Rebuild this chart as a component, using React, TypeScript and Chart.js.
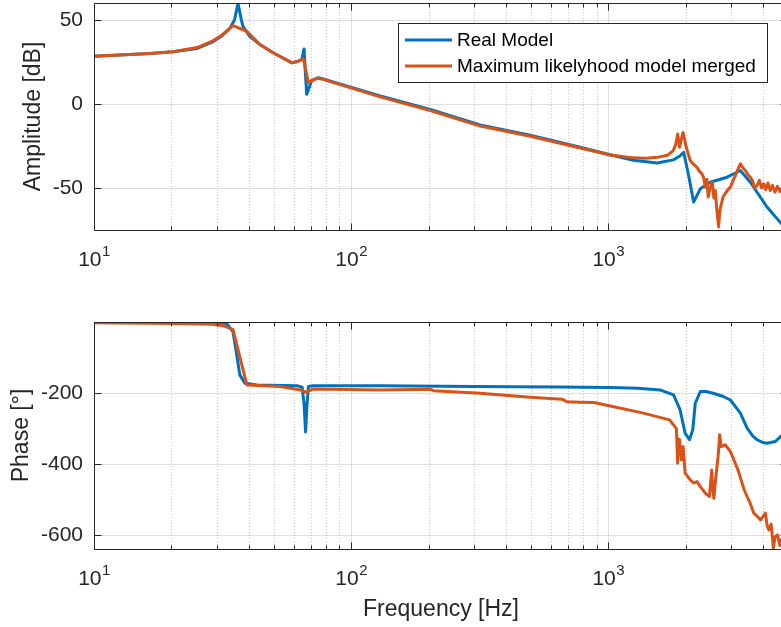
import React, { useEffect, useRef } from "react";
import { Chart, registerables } from "chart.js";

Chart.register(...registerables);

// ---------- data ----------
const xMajorTicks = [10, 100, 1000];
const xMinorTicks = [20, 30, 40, 50, 60, 70, 80, 90, 200, 300, 400, 500, 600, 700, 800, 900, 2000, 3000, 4000, 5000];
const ampTicks = [-50, 0, 50];
const phaseTicks = [-600, -400, -200];

const seriesNames = ["Real Model", "Maximum likelyhood model merged"];

const realAmpFreq = [10, 13.8, 16.5, 20.3, 25.2, 29, 31.5, 33.8, 35.2, 36.3, 37.4, 38, 40.4, 44.2, 49.7, 58.9, 62.2, 64.3, 65.6, 66.4, 67.2, 70.3, 74.6, 77.8, 129.7, 203, 317.5, 497, 778, 1018, 1251, 1548, 1790, 1900, 1965, 2050, 2147, 2280, 2492, 2897, 3264, 3570, 4143, 4710, 5000];
const realAmpDb = [28.4, 29.3, 30, 31, 33, 36.9, 40.5, 45, 50, 59.8, 50, 46, 40, 35.3, 30.4, 24.4, 25.4, 26.4, 32.7, 18, 5.7, 14, 15.6, 14.8, 4.7, -3.3, -12.5, -18.6, -25.8, -30.2, -33.5, -35.1, -33.3, -31, -28.8, -42, -58.4, -50.5, -46.6, -43.6, -39.6, -46.6, -61.3, -71.2, -75];

const mlAmpFreq = [10, 13.8, 16.5, 20.3, 25.2, 29, 31.5, 34.7, 39.3, 44.2, 49.7, 58.9, 62.2, 65.2, 68.2, 73.6, 77.8, 129.7, 203, 317.5, 497, 778, 1018, 1251, 1400, 1548, 1700, 1790, 1830, 1861, 1895, 1925, 1954, 2010, 2083, 2150, 2213, 2260, 2314, 2350, 2384, 2420, 2447, 2490, 2540, 2575, 2607, 2640, 2685, 2720, 2754, 2800, 2852, 2920, 2985, 3050, 3121, 3190, 3264, 3340, 3414, 3490, 3570, 3650, 3700, 3793, 3870, 3950, 4022, 4100, 4180, 4266, 4350, 4450, 4550, 4650, 4710, 5000];
const mlAmpDb = [28.4, 29.3, 30, 31, 33.5, 37.5, 41, 46.6, 43.2, 35.3, 30.4, 24.4, 25.4, 26.8, 12.6, 15.2, 14.6, 4.2, -4, -13.2, -19.2, -26.2, -30.4, -32.1, -32.3, -31.8, -30.5, -27.8, -24, -17.9, -25.8, -21, -17, -25.8, -33.7, -36, -37.7, -40, -41.6, -44, -49.5, -45, -55.4, -50, -46.6, -56, -51.5, -62, -73.2, -63, -59.4, -55, -53.4, -51, -49.5, -46, -42.6, -39, -35.7, -38, -39.6, -42, -43.6, -46, -50, -48.5, -45.5, -50, -47.5, -51, -47, -51.5, -48.5, -52.5, -49, -52, -50.5, -51];

const realPhFreq = [10, 29, 32.8, 34.7, 35.9, 36.9, 38.7, 43, 61.5, 64.5, 65.6, 66.5, 67.4, 68.2, 71.1, 130, 300, 650, 1018, 1300, 1590, 1794, 1903, 1990, 2070, 2131, 2180, 2280, 2400, 2562, 2800, 2985, 3264, 3467, 3650, 3793, 4000, 4143, 4460, 4710, 5000];
const realPhDeg = [-1, -1, -4, -27, -93, -149, -173, -177.5, -179.5, -184, -230, -310, -230, -182, -179.5, -180, -182, -183, -185, -187, -191.5, -205.6, -248, -313.5, -332, -304, -229, -196, -196, -201, -210, -220, -257, -299, -322, -332, -340, -342, -337, -321, -312];

const mlPhFreq = [10, 20, 29.1, 32, 33.8, 34.7, 39.3, 53, 63.4, 66.9, 71.1, 130, 203, 209, 317.5, 497, 660, 690, 778, 878, 1018, 1369, 1732, 1815, 1840, 1861, 1880, 1895, 1925, 1954, 1990, 2083, 2147, 2213, 2280, 2384, 2474, 2525, 2550, 2574, 2621, 2674, 2711, 2750, 2852, 2985, 3194, 3376, 3467, 3560, 3679, 3800, 3912, 4000, 4085, 4150, 4210, 4300, 4385, 4460, 4550, 4650, 4710, 5000];
const mlPhDeg = [-2, -4, -6.5, -11, -18, -21, -177.5, -182, -191.5, -198, -188.7, -191.5, -189.6, -193.5, -200.8, -212, -217.7, -224.5, -226, -227, -236.6, -257, -276, -295, -300, -398, -330, -332, -389, -351, -426, -445, -454, -450, -464, -482.5, -492, -417, -470, -497, -436, -379, -318, -351, -346.5, -365, -417, -473, -492, -510, -539, -548, -558, -548, -539, -575, -586, -570, -637, -605, -600, -630, -614, -625];

// ---------- styling ----------
const BLUE = "#0072BD";
const ORANGE = "#D95319";
const AX = "#262626";
const FONT = "'Liberation Sans', Arial, Helvetica, sans-serif";

const toPts = (xs: number[], ys: number[]) => xs.map((x, i) => ({ x, y: ys[i] }));

function framePlugin(yTicks: number[]) {
  return {
    id: "matlabFrame",
    beforeDatasetsDraw(chart: any) {
      const { ctx, chartArea: a, scales } = chart;
      const x = scales.x;
      const y = scales.y;
      ctx.save();
      ctx.beginPath();
      ctx.rect(a.left, a.top, a.right - a.left, a.bottom - a.top);
      ctx.clip();
      ctx.lineWidth = 1;
      ctx.strokeStyle = "rgba(38,38,38,0.28)";
      ctx.setLineDash([1, 2]);
      ctx.beginPath();
      for (const v of xMinorTicks) {
        const p = Math.round(x.getPixelForValue(v)) + 0.5;
        ctx.moveTo(p, a.top);
        ctx.lineTo(p, a.bottom);
      }
      ctx.stroke();
      ctx.setLineDash([]);
      ctx.strokeStyle = "rgba(38,38,38,0.15)";
      ctx.beginPath();
      for (const v of xMajorTicks) {
        const p = Math.round(x.getPixelForValue(v)) + 0.5;
        ctx.moveTo(p, a.top);
        ctx.lineTo(p, a.bottom);
      }
      for (const v of yTicks) {
        const p = Math.round(y.getPixelForValue(v)) + 0.5;
        ctx.moveTo(a.left, p);
        ctx.lineTo(a.right, p);
      }
      ctx.stroke();
      ctx.restore();
    },
    afterDatasetsDraw(chart: any) {
      const { ctx, chartArea: a, scales } = chart;
      const x = scales.x;
      const y = scales.y;
      const L = Math.round(a.left) + 0.5;
      const R = Math.round(a.right) - 0.5;
      const T = Math.round(a.top) + 0.5;
      const B = Math.round(a.bottom) + 0.5;
      ctx.save();
      ctx.strokeStyle = AX;
      ctx.lineWidth = 1;
      ctx.beginPath();
      ctx.rect(L, T, R - L, B - T);
      for (const v of xMajorTicks) {
        const p = Math.round(x.getPixelForValue(v)) + 0.5;
        ctx.moveTo(p, B); ctx.lineTo(p, B - 7);
        ctx.moveTo(p, T); ctx.lineTo(p, T + 7);
      }
      for (const v of xMinorTicks) {
        const p = Math.round(x.getPixelForValue(v)) + 0.5;
        ctx.moveTo(p, B); ctx.lineTo(p, B - 4);
        ctx.moveTo(p, T); ctx.lineTo(p, T + 4);
      }
      for (const v of yTicks) {
        const p = Math.round(y.getPixelForValue(v)) + 0.5;
        ctx.moveTo(L, p); ctx.lineTo(L + 7, p);
        ctx.moveTo(R, p); ctx.lineTo(R - 7, p);
      }
      ctx.stroke();

      // x tick labels as 10^n with a real superscript
      ctx.fillStyle = AX;
      ctx.textBaseline = "alphabetic";
      ctx.textAlign = "left";
      for (const v of xMajorTicks) {
        const p = x.getPixelForValue(v);
        const base = "10";
        const exp = String(Math.round(Math.log10(v)));
        ctx.font = `21px ${FONT}`;
        const w1 = ctx.measureText(base).width;
        ctx.font = `15px ${FONT}`;
        const w2 = ctx.measureText(exp).width;
        const sx = p - (w1 + w2) / 2;
        const by = a.bottom + 36;
        ctx.font = `21px ${FONT}`;
        ctx.fillText(base, sx, by);
        ctx.font = `15px ${FONT}`;
        ctx.fillText(exp, sx + w1 + 0.5, by - 10);
      }
      ctx.restore();
    },
  };
}

const legendPlugin = {
  id: "matlabLegend",
  afterDraw(chart: any) {
    const { ctx } = chart;
    const ds = chart.data.datasets;
    const bx = 398, by = 23, bw = 369, bh = 59;
    ctx.save();
    ctx.fillStyle = "#ffffff";
    ctx.fillRect(bx, by, bw, bh);
    ctx.strokeStyle = AX;
    ctx.lineWidth = 1;
    ctx.strokeRect(bx + 0.5, by + 0.5, bw, bh);
    ctx.font = `19px ${FONT}`;
    ctx.textBaseline = "middle";
    ctx.textAlign = "left";
    ds.forEach((d: any, i: number) => {
      const ly = 40 + i * 26;
      ctx.strokeStyle = d.borderColor;
      ctx.lineWidth = 3;
      ctx.beginPath();
      ctx.moveTo(405, ly);
      ctx.lineTo(452, ly);
      ctx.stroke();
      ctx.fillStyle = "#000";
      ctx.fillText(d.label, 457, ly + 1);
    });
    ctx.restore();
  },
};

function makeOptions(yMin: number, yMax: number, yTicks: number[], yTitle: string, yTitlePad: number, padTop: number, xAxisHeight: number, showXTitle: boolean) {
  return {
    responsive: false,
    maintainAspectRatio: false,
    animation: false,
    events: [],
    layout: { padding: { top: padTop, left: 0, right: 12, bottom: 0 } },
    plugins: { legend: { display: false }, tooltip: { enabled: false } },
    elements: { point: { radius: 0 }, line: { tension: 0, borderJoinStyle: "round", borderCapStyle: "round" } },
    scales: {
      x: {
        type: "logarithmic",
        min: 10,
        max: 5000,
        afterBuildTicks: (s: any) => {
          s.ticks = xMajorTicks.map((v) => ({ value: v, major: true }));
        },
        afterFit: (s: any) => {
          s.height = xAxisHeight;
          s.paddingLeft = 0;
          s.paddingRight = 0;
        },
        grid: { display: false, drawTicks: false },
        border: { display: false },
        ticks: { display: false },
        title: {
          display: showXTitle,
          text: "Frequency [Hz]",
          color: AX,
          font: { family: FONT, size: 23 },
          padding: { top: 0, bottom: 4 },
        },
      },
      y: {
        type: "linear",
        min: yMin,
        max: yMax,
        afterBuildTicks: (s: any) => {
          s.ticks = yTicks.map((v) => ({ value: v }));
        },
        afterFit: (s: any) => {
          s.width = 94;
          s.paddingTop = 0;
          s.paddingBottom = 0;
        },
        grid: { display: false, drawTicks: false },
        border: { display: false },
        ticks: {
          padding: 11,
          color: AX,
          font: { family: FONT, size: 21 },
          callback: (v: any) => String(v),
        },
        title: {
          display: true,
          text: yTitle,
          color: AX,
          font: { family: FONT, size: 23 },
          padding: { top: yTitlePad, bottom: 0 },
        },
      },
    },
  };
}

export default function App() {
  const topRef = useRef<HTMLCanvasElement>(null);
  const botRef = useRef<HTMLCanvasElement>(null);

  useEffect(() => {
    const top = new Chart(topRef.current as HTMLCanvasElement, {
      type: "line",
      data: {
        datasets: [
          { label: seriesNames[0], data: toPts(realAmpFreq, realAmpDb), borderColor: BLUE, backgroundColor: BLUE, borderWidth: 3, order: 1 },
          { label: seriesNames[1], data: toPts(mlAmpFreq, mlAmpDb), borderColor: ORANGE, backgroundColor: ORANGE, borderWidth: 3, order: 0 },
        ],
      },
      options: makeOptions(-75, 60, ampTicks, "Amplitude [dB]", 20, 3, 60, false) as any,
      plugins: [framePlugin(ampTicks), legendPlugin],
    });
    const bot = new Chart(botRef.current as HTMLCanvasElement, {
      type: "line",
      data: {
        datasets: [
          { label: seriesNames[0], data: toPts(realPhFreq, realPhDeg), borderColor: BLUE, backgroundColor: BLUE, borderWidth: 3, order: 1 },
          { label: seriesNames[1], data: toPts(mlPhFreq, mlPhDeg), borderColor: ORANGE, backgroundColor: ORANGE, borderWidth: 3, order: 0 },
        ],
      },
      options: makeOptions(-640, 0, phaseTicks, "Phase [\u00B0]", 8, 32, 78, true) as any,
      plugins: [framePlugin(phaseTicks)],
    });
    return () => {
      top.destroy();
      bot.destroy();
    };
  }, []);

  return (
    <div style={{ position: "fixed", left: 0, top: 0, width: 781, height: 627, overflow: "hidden", background: "#fff" }}>
      <canvas ref={topRef} width={800} height={290} style={{ position: "absolute", left: 0, top: 0, width: 800, height: 290 }} />
      <canvas ref={botRef} width={800} height={337} style={{ position: "absolute", left: 0, top: 290, width: 800, height: 337 }} />
    </div>
  );
}
